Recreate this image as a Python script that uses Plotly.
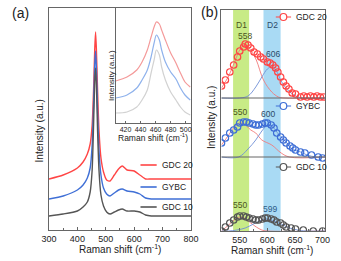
import plotly.graph_objects as go

W, H = 341, 261
FONT = "Liberation Sans, Arial, sans-serif"

# ---------------- panel (a): main spectra ----------------
shift_a = [300, 350, 400, 420, 435, 445, 452, 457, 461, 464, 467, 471, 476, 483, 492, 503, 515, 530, 545, 558, 575, 600, 620, 640, 660, 700, 800]
gdc20_a = [51, 55, 62, 68, 76, 86, 105, 140, 180, 198, 180, 140, 100, 72, 58, 50, 49, 55, 61, 64, 60, 59, 55, 51, 51, 51, 51]
gybc_a = [31, 34, 40, 45, 52, 62, 85, 125, 165, 179, 162, 120, 80, 55, 42, 36, 34, 37, 40, 41, 39, 38, 36, 32, 31, 31, 31]
gdc10_a = [14, 16, 19, 23, 28, 38, 60, 105, 148, 162, 145, 100, 60, 35, 24, 18, 16, 18, 20, 21, 19, 19, 18, 15, 14, 14, 14]

# ---------------- inset ----------------
shift_i = [407, 422, 435, 442, 449, 454, 458, 461, 465, 468, 473, 480, 487, 493, 499, 506]
gdc20_i = [42, 46, 53, 61, 73, 86, 96, 101, 99, 93, 83, 70, 60, 50, 41, 36]
gybc_i = [25, 28, 35, 43, 53, 66, 80, 88, 83, 73, 61, 51, 44, 35, 28, 23]
gdc10_i = [10, 11, 16, 23, 33, 50, 63, 73, 68, 56, 43, 31, 23, 16, 11, 8]
inset_ticks = [420, 440, 460, 480, 500]

# ---------------- panel (b): D-band region ----------------
shift_b20 = [517, 524, 532, 539, 546, 550, 557, 560, 565, 570, 576, 582, 588, 593, 600, 605, 610, 615, 619, 624, 629, 634, 639, 645, 651, 660, 666, 672, 678, 684, 690, 696, 702]
gdc20_b = [12, 18, 26, 33, 41, 47, 51, 54, 53, 50, 46, 44, 41, 39, 36, 35, 33, 30, 26, 21, 16, 12, 9, 5, 4, 1, 2, 1, 2, 1, 2, 1, 1]
fit20_x = [517, 530, 540, 550, 558, 565, 572, 580, 593, 608, 620, 630, 705]
fit20_d1 = [10, 22, 35, 48, 53, 51, 46, 38, 18, 6, 1, 0, 0]
fit20_d2x = [517, 550, 565, 579, 590, 600, 607, 615, 626, 635, 643, 655, 670, 705]
fit20_d2 = [0, 0, 2, 11, 21, 29, 31, 28, 16, 9, 5, 1, 0, 0]

shift_bY = [517, 524, 532, 539, 546, 550, 557, 562, 567, 574, 579, 584, 591, 596, 600, 607, 612, 617, 624, 629, 634, 641, 646, 651, 660, 668, 680, 692, 700]
gybc_b = [14, 19, 24, 27, 30, 34, 35, 35, 34, 33, 32, 32, 33, 34, 34, 32, 29, 24, 20, 17, 14, 11, 9, 7, 5, 4, 2, 0, -1]
fitY_x = [517, 530, 540, 550, 558, 570, 579, 590, 608, 625, 640, 705]
fitY_d1 = [12, 22, 30, 34, 33, 27, 24, 17, 12, 4, 0, 0]
fitY_d2x = [517, 548, 565, 579, 590, 601, 610, 620, 631, 645, 660, 672, 688, 705]
fitY_d2 = [0, 0, 8, 17, 26, 32, 30, 23, 17, 8, 5, 2, 0, 0]

shift_b10 = [517, 524, 532, 539, 546, 550, 557, 562, 567, 574, 579, 584, 591, 596, 600, 607, 612, 617, 624, 629, 634, 643, 651, 665, 683, 700]
gdc10_b = [0, 4, 8, 11, 14, 15, 15, 14, 13, 12, 11, 11, 12, 13, 13, 12, 11, 9, 8, 6, 4, 3, 2, 1, 0, 0]
fit10_x = [517, 530, 540, 550, 558, 570, 580, 590, 600, 705]
fit10_d1 = [0, 6, 11, 14, 13, 8, 4, 1, 0, 0]
fit10_d2x = [517, 530, 545, 560, 575, 590, 600, 612, 625, 640, 655, 670, 705]
fit10_d2 = [0, 0, 1, 3, 7, 11, 12, 10, 7, 3, 1, 0, 0]

offsets_b = {"GDC 20": 133, "GYBC": 74, "GDC 10": 0}
bands = {"D1": (538, 567), "D2": (593, 624)}
peaks = [("558", 560, 195, "#4a5520"), ("606", 610, 177, "#2c4a68"),
         ("550", 550, 119, "#4a5520"), ("600", 601, 117, "#2c4a68"),
         ("550", 550, 26, "#4a5520"), ("599", 605, 22, "#2c5a88")]

RED, BLUE, GRAY = "#ff4545", "#3f6fd6", "#555555"
LRED, LBLUE, LGRAY = "#f49a9a", "#8fb2ec", "#d2d2d2"
FRAME = "#666666"

fig = go.Figure()

for y, c in [(gdc20_a, RED), (gybc_a, BLUE), (gdc10_a, GRAY)]:
    fig.add_trace(go.Scatter(x=shift_a, y=y, mode="lines", line=dict(color=c, width=1.4, shape="spline", smoothing=0.6),
                             xaxis="x", yaxis="y", showlegend=False, hoverinfo="skip"))
for y, c in [(gdc20_i, LRED), (gybc_i, LBLUE), (gdc10_i, LGRAY)]:
    fig.add_trace(go.Scatter(x=shift_i, y=y, mode="lines", line=dict(color=c, width=1.2, shape="spline", smoothing=0.8),
                             xaxis="x2", yaxis="y2", showlegend=False, hoverinfo="skip"))

sets = [("GDC 20", shift_b20, gdc20_b, RED, fit20_x, fit20_d1, fit20_d2x, fit20_d2),
        ("GYBC", shift_bY, gybc_b, BLUE, fitY_x, fitY_d1, fitY_d2x, fitY_d2),
        ("GDC 10", shift_b10, gdc10_b, GRAY, fit10_x, fit10_d1, fit10_d2x, fit10_d2)]
for name, xs, ys, c, fx1, fy1, fx2, fy2 in sets:
    off = offsets_b[name]
    fig.add_trace(go.Scatter(x=fx1, y=[v + off for v in fy1], mode="lines",
                             line=dict(color="#f07a7a", width=0.9, shape="spline"),
                             xaxis="x3", yaxis="y3", showlegend=False, hoverinfo="skip"))
    fig.add_trace(go.Scatter(x=fx2, y=[v + off for v in fy2], mode="lines",
                             line=dict(color="#6f8ed6", width=0.9, shape="spline"),
                             xaxis="x3", yaxis="y3", showlegend=False, hoverinfo="skip"))
    fig.add_trace(go.Scatter(x=xs, y=[v + off for v in ys], mode="markers",
                             marker=dict(symbol="circle-open", size=6.5, color=c, line=dict(width=1.2, color=c)),
                             xaxis="x3", yaxis="y3", showlegend=False, hoverinfo="skip"))

def px_x(p):
    return p / W

def px_y(p):
    return 1 - p / H

ax_common = dict(showgrid=False, zeroline=False, showline=True, linecolor=FRAME, linewidth=1, mirror=True,
                 tickfont=dict(family=FONT, size=9, color="#222"), ticks="inside", ticklen=3, tickcolor=FRAME)

fig.update_layout(
    width=W, height=H, margin=dict(l=0, r=0, t=0, b=0),
    paper_bgcolor="white", plot_bgcolor="rgba(0,0,0,0)",
    xaxis=dict(ax_common, domain=[px_x(43), px_x(192)], range=[300, 800], tickvals=[300, 400, 500, 600, 700, 800],
               minor=dict(ticks="inside", ticklen=2, dtick=50, tickcolor=FRAME), anchor="y"),
    yaxis=dict(ax_common, domain=[px_y(230), px_y(8)], range=[0, 222], showticklabels=False, ticks="", anchor="x"),
    xaxis2=dict(ax_common, domain=[px_x(113), px_x(192)], range=[407, 507], tickvals=inset_ticks,
                tickfont=dict(family=FONT, size=7, color="#222"), anchor="y2", ticklen=2),
    yaxis2=dict(ax_common, domain=[px_y(123), px_y(8)], range=[0, 115], showticklabels=False, ticks="", anchor="x2"),
    xaxis3=dict(ax_common, domain=[px_x(224), px_x(333)], range=[517, 705], tickvals=[550, 600, 650, 700],
                minor=dict(ticks="inside", ticklen=2, dtick=25, tickcolor=FRAME), anchor="y3"),
    yaxis3=dict(ax_common, domain=[px_y(231), px_y(10)], range=[0, 221], showticklabels=False, ticks="", anchor="x3"),
)

shapes = []
shapes.append(dict(type="rect", xref="paper", yref="paper", x0=px_x(113), x1=px_x(192), y0=px_y(123), y1=px_y(8),
                   fillcolor="white", line=dict(width=0), layer="below"))
for name, (a, b) in bands.items():
    shapes.append(dict(type="rect", xref="x3", yref="paper", x0=a, x1=b, y0=px_y(231), y1=px_y(10),
                       fillcolor="#c8eb86" if name == "D1" else "#a9daf4", line=dict(width=0), layer="below"))
for name in ["GDC 20", "GYBC"]:
    off = offsets_b[name]
    shapes.append(dict(type="line", xref="paper", yref="y3", x0=px_x(224), x1=px_x(333), y0=off, y1=off,
                       line=dict(color=FRAME, width=1)))
for yy, c in [(165, RED), (187, BLUE), (207, GRAY)]:
    shapes.append(dict(type="line", xref="paper", yref="paper", x0=px_x(139), x1=px_x(156), y0=px_y(yy), y1=px_y(yy),
                       line=dict(color=c, width=1.6)))
for yy, c in [(17, RED), (106, BLUE), (167, GRAY)]:
    shapes.append(dict(type="line", xref="paper", yref="paper", x0=px_x(281), x1=px_x(297), y0=px_y(yy), y1=px_y(yy),
                       line=dict(color=c, width=1)))
    shapes.append(dict(type="circle", xref="paper", yref="paper", x0=px_x(285.5), x1=px_x(292.5),
                       y0=px_y(yy + 3.5), y1=px_y(yy - 3.5), fillcolor="white", line=dict(color=c, width=1.2)))
fig.update_layout(shapes=shapes)

ann = []
def txt(x, y, s, size, color="#222", xanchor="center", angle=0, xref="paper", yref="paper"):
    ann.append(dict(x=x, y=y, text=s, showarrow=False, xref=xref, yref=yref, xanchor=xanchor, yanchor="middle",
                    textangle=angle, font=dict(family=FONT, size=size, color=color)))

txt(px_x(2), px_y(13), "(a)", 14, xanchor="left")
txt(px_x(200), px_y(12), "(b)", 14, xanchor="left")
txt(px_x(117), px_y(249), "Raman shift (cm<sup>-1</sup>)", 10)
txt(px_x(277), px_y(250), "Raman shift (cm<sup>-1</sup>)", 10)
txt(px_x(33), px_y(131), "Intensity (a.u.)", 10, angle=-90)
txt(px_x(213), px_y(118), "Intensity (a.u.)", 10, angle=-90)
txt(px_x(108), px_y(75), "Intensity (a.u.)", 8, angle=-90)
txt(px_x(152), px_y(137), "Raman shift (cm<sup>-1</sup>)", 8.5)
for yy, s in [(165, "GDC 20"), (187, "GYBC"), (207, "GDC 10")]:
    txt(px_x(159), px_y(yy), s, 8.5, xanchor="left")
for yy, s in [(17, "GDC 20"), (106, "GYBC"), (167, "GDC 10")]:
    txt(px_x(300), px_y(yy), s, 8.5, xanchor="left")
txt(553, 206, "D1", 8.5, color="#4a5520", xref="x3", yref="y3")
txt(610, 206, "D2", 8.5, color="#2c4a68", xref="x3", yref="y3")
for s, x, y, c in peaks:
    txt(x, y, s, 8.5, color=c, xref="x3", yref="y3")
fig.update_layout(annotations=ann)

fig.write_html("out.html", config={"displayModeBar": False},
               post_script="document.body.style.margin='0';document.body.style.overflow='hidden';")
